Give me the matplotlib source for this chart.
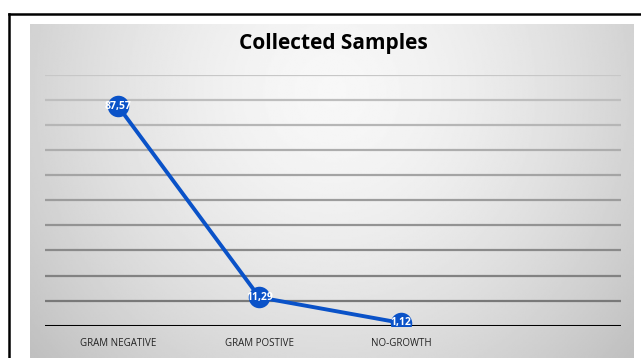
import numpy as np
import matplotlib
matplotlib.use("Agg")
import matplotlib.pyplot as plt
from matplotlib.lines import Line2D

categories = ["GRAM NEGATIVE", "GRAM POSTIVE", "NO-GROWTH"]
values = [87.57, 11.29, 1.12]
labels = ["87,57", "11,29", "1,12"]
grid_levels = list(range(10, 101, 10))

W, H = 641, 358
fig = plt.figure(figsize=(W / 100, H / 100), dpi=100)
fig.patch.set_facecolor("white")


def fx(px):
    return px / W


def fy(py):
    return 1 - py / H


# outer frame (left + top edges visible)
fig.add_artist(Line2D([fx(9), fx(9)], [fy(14), 0], color="black", lw=1.8))
fig.add_artist(Line2D([fx(9), 1.0], [fy(14), fy(14)], color="black", lw=1.8))

# gray panel with radial gradient
bg = fig.add_axes([fx(30), 0, fx(634) - fx(30), fy(24)])
yy, xx = np.mgrid[0:1:200j, 0:1:400j]
r = np.sqrt(((xx - 0.5) / 0.62) ** 2 + ((yy - 0.2) / 1.15) ** 2)
shade = np.clip(0.97 - 0.2 * r ** 1.6, 0.75, 0.97)
bg.imshow(shade, cmap="gray", vmin=0, vmax=1, aspect="auto",
          extent=[0, 1, 0, 1], origin="upper")
bg.axis("off")

# plot axes
ax = fig.add_axes([fx(45), fy(325.7), fx(621) - fx(45), fy(75) - fy(325.7)])
ax.patch.set_alpha(0)
x = np.arange(len(categories))
ax.set_xlim(-0.516, 3.555)
ax.set_ylim(0, 100)
for lvl in grid_levels:
    g = 0.78 - 0.34 * (1 - lvl / 100)
    ax.axhline(lvl, color=(g, g, g), lw=1.6, zorder=1)
ax.axhline(0, color="black", lw=2.2, zorder=2)

ax.plot(x, values, color="#0a52c8", lw=2.8, zorder=3)
ax.scatter(x, values, s=240, color="#0a52c8", zorder=4, linewidths=0)
for xi, v, t in zip(x, values, labels):
    ax.text(xi, v, t, color="white", fontsize=7.5, fontweight="bold",
            ha="center", va="center", zorder=5, family="Open Sans")

ax.set_xticks(x)
ax.set_xticklabels(categories, fontsize=7, color="#222222", family="Open Sans")
ax.tick_params(axis="x", length=0, pad=9)
ax.set_yticks([])
for sp in ax.spines.values():
    sp.set_visible(False)

fig.text(fx(333), fy(43), "Collected Samples", ha="center", va="center",
         fontsize=15, fontweight="bold", family="Open Sans", color="black")

fig.savefig("out.png", dpi=100)
